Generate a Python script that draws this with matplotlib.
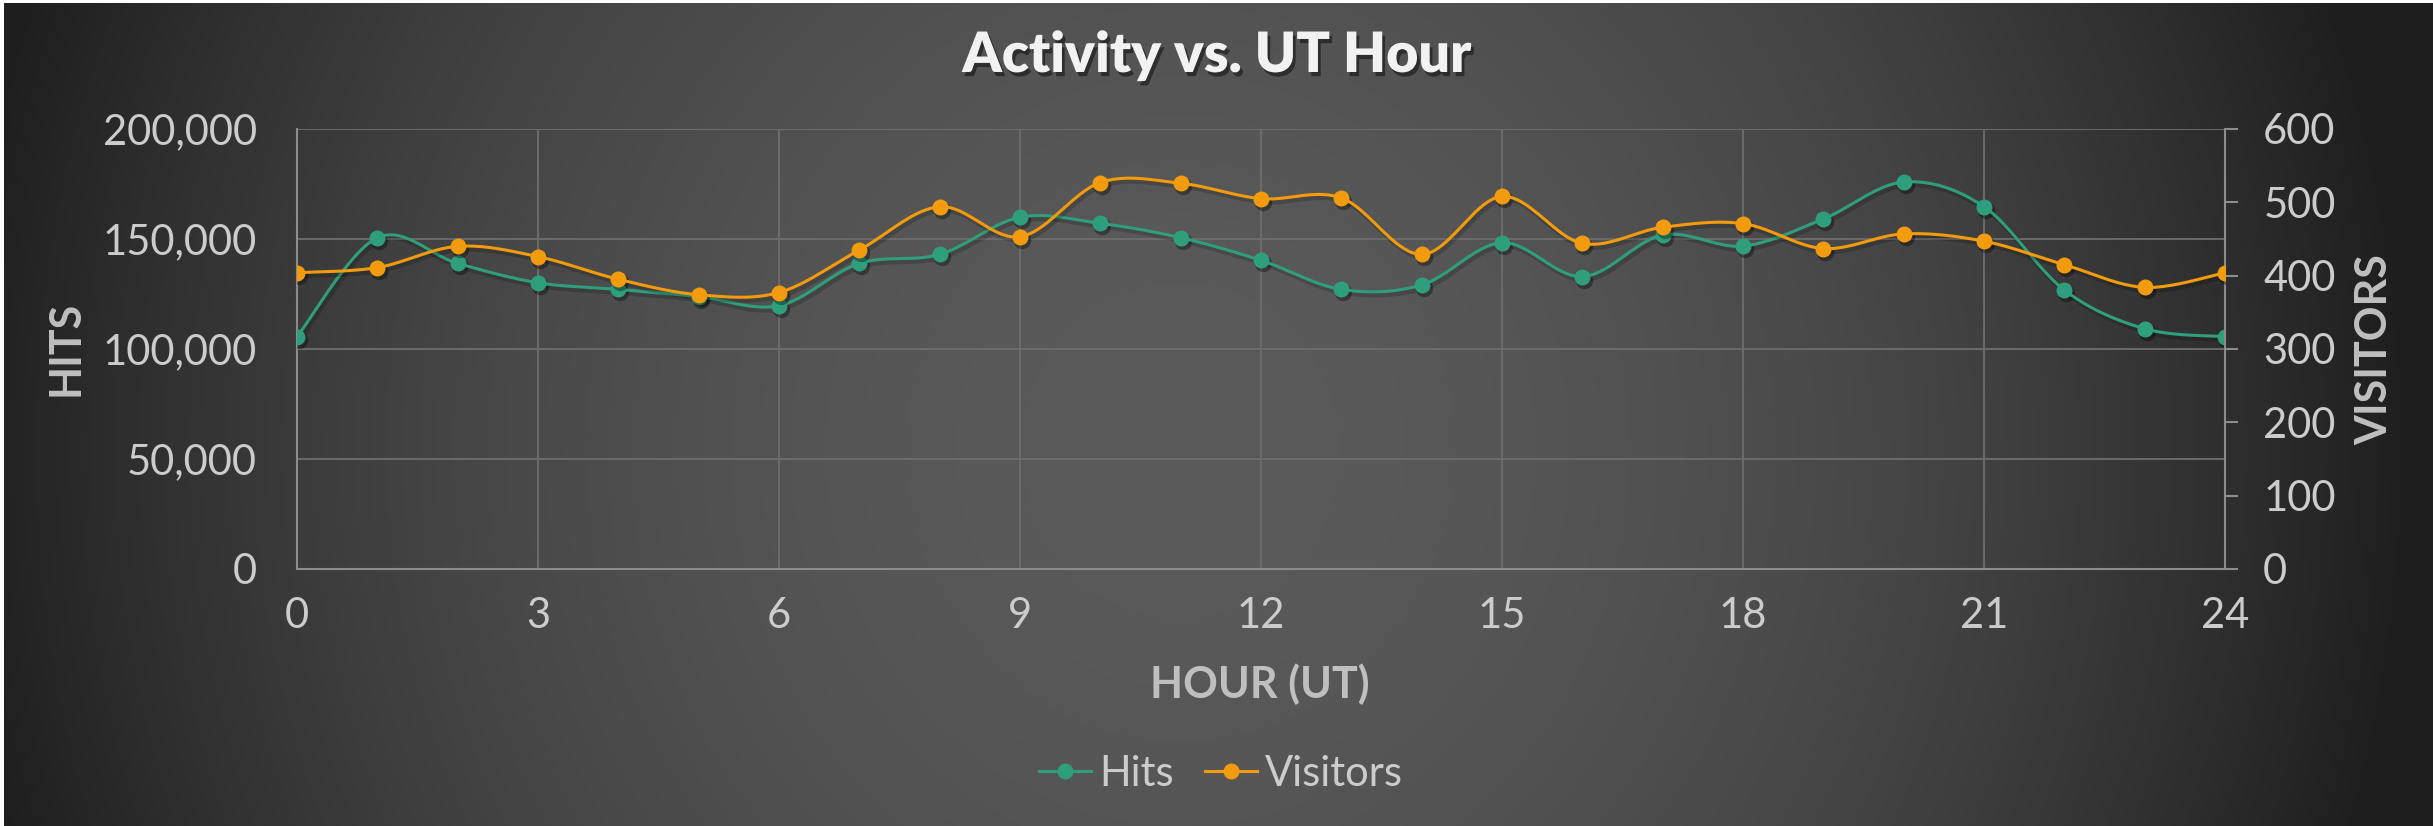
import numpy as np
import matplotlib
matplotlib.use("Agg")
import matplotlib.pyplot as plt
import matplotlib.patheffects as pe
from matplotlib.transforms import offset_copy
from matplotlib.lines import Line2D

# ---------------- data ----------------
hours = list(range(25))
hits = [105600, 150600, 138900, 130100, 127100, 123800, 119700, 138900, 143000,
        159900, 157100, 150600, 140300, 127100, 129100, 148300, 132900, 151800,
        146800, 159100, 175900, 164700, 126800, 109200, 105600]
visitors = [404, 411, 440, 426, 395, 374, 377, 435, 494, 453, 527, 526, 505, 506,
            429, 508, 444, 466, 471, 437, 457, 447, 415, 384, 404]
x_ticks = [0, 3, 6, 9, 12, 15, 18, 21, 24]
hits_ticks = [0, 50000, 100000, 150000, 200000]
visitor_ticks = [0, 100, 200, 300, 400, 500, 600]

title = "Activity vs. UT Hour"
xlabel = "HOUR (UT)"
ylabel_left = "HITS"
ylabel_right = "VISITORS"
series_names = ["Hits", "Visitors"]

GREEN = "#2f9e7d"
ORANGE = "#f29b0c"
TICK_C = "#cccccc"
LABEL_C = "#bfbfbf"

W, H = 2433, 826
DPI = 100
FONT = "Lato"


def smooth(x, y, n=24):
    x = np.asarray(x, float)
    y = np.asarray(y, float)
    N = len(x)
    xs, ys = [], []
    for i in range(N - 1):
        p0 = i - 1 if i > 0 else i
        p3 = i + 2 if i + 2 < N else i + 1
        c1x = x[i] + (x[i + 1] - x[p0]) / 6
        c1y = y[i] + (y[i + 1] - y[p0]) / 6
        c2x = x[i + 1] - (x[p3] - x[i]) / 6
        c2y = y[i + 1] - (y[p3] - y[i]) / 6
        t = np.linspace(0, 1, n, endpoint=(i == N - 2))
        a = (1 - t) ** 3
        b = 3 * (1 - t) ** 2 * t
        c = 3 * (1 - t) * t ** 2
        d = t ** 3
        xs.append(a * x[i] + b * c1x + c * c2x + d * x[i + 1])
        ys.append(a * y[i] + b * c1y + c * c2y + d * y[i + 1])
    return np.concatenate(xs), np.concatenate(ys)


fig = plt.figure(figsize=(W / DPI, H / DPI), dpi=DPI, facecolor="white")

# background radial gradient
bg = fig.add_axes([4 / W, 0, 1 - 4 / W, 1 - 3 / H], zorder=-10)
gx = np.arange(4, W)
gy = np.arange(3, H)
GX, GY = np.meshgrid(gx, gy)
cx, cy, rx, ry = 1180, 450, 1230, 1300
r = np.sqrt(((GX - cx) / rx) ** 2 + ((GY - cy) / ry) ** 2)
r = np.clip(r, 0, 1)
val = (30 + 60 * (1 - r ** 2)) / 255.0
img = np.dstack([val, val, val])
bg.imshow(img, aspect="auto", extent=[0, 1, 0, 1], origin="upper", interpolation="bilinear")
bg.set_axis_off()

# main axes
L, R = 297 / W, 2225 / W
T, B = 1 - 129 / H, 1 - 569 / H
ax = fig.add_axes([L, B, R - L, T - B])
ax.patch.set_alpha(0)
ax2 = ax.twinx()
ax2.patch.set_alpha(0)

ax.set_xlim(0, 24)
ax.set_ylim(0, 200000)
ax2.set_ylim(0, 600)

grid_c = "#6e6e6e"
ax.set_xticks(x_ticks)
ax.set_yticks(hits_ticks)
ax.grid(True, color=grid_c, lw=1.3, zorder=0)
ax.set_axisbelow(True)

for s in ["top", "right"]:
    ax.spines[s].set_visible(False)
for s in ["top", "left", "bottom"]:
    ax2.spines[s].set_visible(False)
ax.spines["left"].set_color("#8c8c8c")
ax.spines["left"].set_linewidth(1.5)
ax.spines["bottom"].set_color("#8c8c8c")
ax.spines["bottom"].set_linewidth(1.5)
ax2.spines["right"].set_color("#8c8c8c")
ax2.spines["right"].set_linewidth(1.5)

ax.tick_params(axis="both", length=0, colors=TICK_C, labelsize=30)
ax.tick_params(axis="y", pad=29)
ax.tick_params(axis="x", pad=20)
ax2.set_yticks(visitor_ticks)
ax2.tick_params(axis="y", direction="out", length=9.5, width=1.5, color="#8c8c8c",
                labelcolor=TICK_C, labelsize=30, pad=18)
ax.set_yticklabels([f"{v:,}" for v in hits_ticks])
ax.set_xticklabels([str(v) for v in x_ticks])
ax2.set_yticklabels([str(v) for v in visitor_ticks])
for lab in ax.get_xticklabels() + ax.get_yticklabels() + ax2.get_yticklabels():
    lab.set_fontfamily(FONT)
    lab.set_fontweight("normal")

# series
ms = 11.5
lw = 2.2
for axis, yv, col, z in [(ax, hits, GREEN, 3), (ax2, visitors, ORANGE, 4)]:
    sx, sy = smooth(hours, yv)
    sh_tr = offset_copy(axis.transData, fig=fig, x=2, y=-3, units="dots")
    axis.plot(sx, sy, color="black", alpha=0.18, lw=lw + 1.5, transform=sh_tr, zorder=z,
              solid_capstyle="round")
    axis.plot(hours, yv, ls="none", marker="o", ms=ms + 1, color="black", alpha=0.35,
              mew=0, transform=sh_tr, zorder=z)
    axis.plot(sx, sy, color=col, lw=lw, zorder=z + 0.1, solid_capstyle="round")
    axis.plot(hours, yv, ls="none", marker="o", ms=ms, color=col, mew=0, zorder=z + 0.2)

# texts
fig.text(0.5, 1 - 72 / H, title, ha="center", va="baseline", fontsize=40,
         fontfamily=FONT, fontweight="heavy", color="#f2f2f2",
         path_effects=[pe.withSimplePatchShadow(offset=(2, -3), shadow_rgbFace="black", alpha=0.45)])
fig.text(1260 / W, 1 - 698 / H, xlabel, ha="center", va="baseline", fontsize=31,
         fontfamily=FONT, fontweight="bold", color=LABEL_C)
fig.text(79 / W, 1 - 348 / H, ylabel_left, ha="center", va="baseline", rotation=90,
         rotation_mode="anchor", fontsize=31, fontfamily=FONT, fontweight="bold", color=LABEL_C)
fig.text(2387 / W, 1 - 350 / H, ylabel_right, ha="center", va="baseline", rotation=90,
         rotation_mode="anchor", fontsize=31, fontfamily=FONT, fontweight="bold", color=LABEL_C)

handles = [Line2D([], [], color=GREEN, lw=lw, marker="o", ms=ms, mew=0),
           Line2D([], [], color=ORANGE, lw=lw, marker="o", ms=ms, mew=0)]
leg = fig.legend(handles, series_names, loc="center", bbox_to_anchor=(1221 / W, 1 - 774 / H),
                 ncol=2, frameon=False, handlelength=1.25, handletextpad=0.2,
                 columnspacing=0.75, prop={"family": FONT, "weight": "normal", "size": 30})
for t in leg.get_texts():
    t.set_color(TICK_C)

fig.savefig("out.png", dpi=DPI, facecolor="white")
